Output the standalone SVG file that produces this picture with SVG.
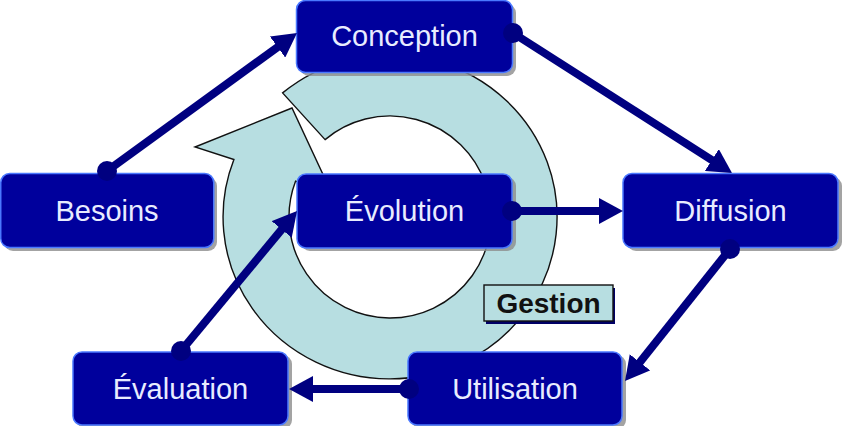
<svg xmlns="http://www.w3.org/2000/svg" width="850" height="426" viewBox="0 0 850 426">
<defs>
<style>
.shadow{fill:#8c8c8c;opacity:0.8}
.box{fill:#00009c;stroke:#4a78ff;stroke-width:1.5}
.lbl{font-family:"Liberation Sans",Arial,sans-serif;font-size:29px;fill:#e8ecff;text-anchor:middle}
.conn{stroke:#000080;stroke-width:8;fill:none}
.dot{fill:#000080}
.ring{fill:#b7dee1;stroke:#111;stroke-width:1.4;stroke-linejoin:miter}
.glbl{font-family:"Liberation Sans",Arial,sans-serif;font-size:28px;font-weight:bold;fill:#111;text-anchor:middle}
</style>
<marker id="ah" viewBox="0 0 24 26" refX="2" refY="13" markerWidth="24" markerHeight="26" markerUnits="userSpaceOnUse" orient="auto">
<path d="M0,0 L24,13 L0,26 z" fill="#000080"/>
</marker>
</defs>
<rect width="850" height="426" fill="#ffffff"/>
<g id="gestion-cycle">
<path class="ring" d="M282.6,92.9 A167,162 0 1 1 233.9,159.5 L195,147 L292,108 L333,196 L295.6,181.1 A101,101 0 1 0 325.1,139.6 Z"/>
</g>
<g id="gestion">
<rect x="486" y="288" width="129" height="36" fill="#000066"/>
<rect x="484" y="285" width="129" height="36" fill="#b7dee1" stroke="#111" stroke-width="1.4"/>
<text class="glbl" x="548.5" y="313">Gestion</text>
</g>
<g id="conception">
<rect class="shadow" x="300" y="4" width="216" height="72" rx="9"/>
<rect class="box" x="296.5" y="0.5" width="216" height="72" rx="9"/>
<text class="lbl" x="404.5" y="46">Conception</text>
</g>
<g id="besoins">
<rect class="shadow" x="4" y="177" width="213" height="74" rx="9"/>
<rect class="box" x="0.75" y="173.5" width="213" height="74" rx="9"/>
<text class="lbl" x="107" y="221">Besoins</text>
</g>
<g id="evolution">
<rect class="shadow" x="301" y="177" width="215" height="74" rx="9"/>
<rect class="box" x="297" y="174" width="215" height="74" rx="9"/>
<text class="lbl" x="404.5" y="221">Évolution</text>
</g>
<g id="diffusion">
<rect class="shadow" x="627" y="177" width="215" height="74" rx="9"/>
<rect class="box" x="623" y="173.5" width="215" height="74" rx="9"/>
<text class="lbl" x="730.5" y="221">Diffusion</text>
</g>
<g id="evaluation">
<rect class="shadow" x="77" y="355" width="215" height="74" rx="9"/>
<rect class="box" x="73" y="352" width="215" height="73" rx="9"/>
<text class="lbl" x="180.5" y="399">Évaluation</text>
</g>
<g id="utilisation">
<rect class="shadow" x="412" y="355" width="214" height="74" rx="9"/>
<rect class="box" x="408" y="352" width="214" height="73" rx="9"/>
<text class="lbl" x="515" y="399">Utilisation</text>
</g>
<g id="connectors">
<line class="conn" x1="107" y1="171" x2="279.2" y2="45.9" marker-end="url(#ah)"/>
<circle class="dot" cx="107" cy="171" r="10"/>
<line class="conn" x1="513" y1="33" x2="713.5" y2="161.1" marker-end="url(#ah)"/>
<circle class="dot" cx="513" cy="33" r="10"/>
<line class="conn" x1="512" y1="211" x2="601" y2="211" marker-end="url(#ah)"/>
<circle class="dot" cx="512" cy="211" r="10"/>
<line class="conn" x1="730" y1="249" x2="638.7" y2="363.8" marker-end="url(#ah)"/>
<circle class="dot" cx="730" cy="249" r="10"/>
<line class="conn" x1="409" y1="389" x2="311" y2="389" marker-end="url(#ah)"/>
<circle class="dot" cx="409" cy="389" r="10"/>
<line class="conn" x1="181" y1="351" x2="283" y2="227.9" marker-end="url(#ah)"/>
<circle class="dot" cx="181" cy="351" r="10"/>
</g>
</svg>
